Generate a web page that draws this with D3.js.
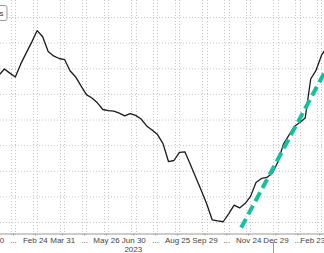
<!DOCTYPE html>
<html>
<head>
<meta charset="utf-8">
<script src="https://cdnjs.cloudflare.com/ajax/libs/d3/7.8.5/d3.min.js"></script>
<style>
  html, body { margin: 0; padding: 0; background: #fff; overflow: hidden; }
  text { font-family: "Liberation Sans", Arial, sans-serif; }
</style>
</head>
<body>
<script>
// Constants.
const width = 324;
const height = 253;
const axisY = 233;

// weekly readings (Mondays), first one Jan 2 2023
const firstWeek = new Date(2023, 0, 2);
const values = [
  5.78, 5.73, 5.97, 5.81, 5.66, 6.17, 6.60, 7.02, 7.47, 7.23,
  6.65, 6.48, 6.38, 6.34, 5.90, 5.67, 5.31, 4.97, 4.84, 4.65,
  4.39, 4.35, 4.33, 4.25, 4.14, 4.23, 4.16, 4.02, 3.75, 3.59,
  3.41, 3.06, 2.36, 2.40, 2.72, 2.74, 2.24, 1.74, 1.23, 0.70,
  0.08, 0.04, 0.01, 0.32, 0.66, 0.55, 0.72, 1.00, 1.54, 1.70,
  1.74, 1.91, 2.34, 3.03, 3.38, 3.73, 3.88, 4.06, 5.58, 5.93,
  6.52, 6.83
];

// dashed trend line, two end points
const trendDates = [new Date(2023, 10, 15), new Date(2024, 2, 1)];
const trendValues = [-0.22, 5.85];

// month ticks (last friday of each month)
const tickDates = [
  new Date(2022, 11, 30), new Date(2023, 0, 27), new Date(2023, 1, 24),
  new Date(2023, 2, 31), new Date(2023, 3, 28), new Date(2023, 4, 26),
  new Date(2023, 5, 30), new Date(2023, 6, 28), new Date(2023, 7, 25),
  new Date(2023, 8, 29), new Date(2023, 9, 27), new Date(2023, 10, 24),
  new Date(2023, 11, 29), new Date(2024, 0, 26), new Date(2024, 1, 23)
];
const tickLabels = [
  'Dec 30', '...', 'Feb 24', 'Mar 31', '...', 'May 26', 'Jun 30', '...',
  'Aug 25', 'Sep 29', '...', 'Nov 24', 'Dec 29', '...', 'Feb 23'
];
const gridValues = [0, 1, 2, 3, 4, 5, 6, 7, 8];
const yearLabel = '2023';
const yearLabelDate = new Date(2023, 5, 30);
const yearBreakDate = new Date(2023, 11, 26);

const data = values.map((v, i) => ({date: d3.timeWeek.offset(firstWeek, i), value: v}));
const trend = trendDates.map((d, i) => ({date: d, value: trendValues[i]}));

// Scales
const pxPerDay = 0.7814;
const x0 = new Date(2022, 11, 30);
const x1 = new Date(2024, 2, 4);
const xScale = d3.scaleTime()
  .domain([x0, x1])
  .range([-8.9, -8.9 + pxPerDay * d3.timeDay.count(x0, x1)]);

const yScale = d3.scaleLinear()
  .domain([0, 8])
  .range([222, 17]);

// Make main svg
const svg = d3.select('body')
  .append('svg')
  .attr('width', width)
  .attr('height', height);

svg.append('defs').append('clipPath')
  .attr('id', 'plot')
  .append('rect')
  .attr('x', 0).attr('y', 0)
  .attr('width', width).attr('height', axisY);

// horizontal grid
svg.append('g')
  .selectAll('line')
  .data(gridValues)
  .enter()
  .append('line')
  .attr('x1', 0)
  .attr('x2', width)
  .attr('y1', d => yScale(d) + 0.5)
  .attr('y2', d => yScale(d) + 0.5)
  .attr('stroke', '#c8c8c8')
  .attr('stroke-width', 1)
  .attr('stroke-dasharray', '1,2');

// vertical grid, pairs around every month tick
const vGrid = svg.append('g');
[-2.2, 2.2].forEach(off => {
  vGrid.selectAll(null)
    .data(tickDates)
    .enter()
    .append('line')
    .attr('x1', d => Math.round(xScale(d) + off) + 0.5)
    .attr('x2', d => Math.round(xScale(d) + off) + 0.5)
    .attr('y1', 0)
    .attr('y2', axisY + 2)
    .attr('stroke', '#c8c8c8')
    .attr('stroke-width', 1)
    .attr('stroke-dasharray', '1,2');
});

// legend box, mostly cut off at the left
svg.append('rect')
  .attr('x', -60)
  .attr('y', 5.5)
  .attr('width', 67)
  .attr('height', 15)
  .attr('rx', 2)
  .attr('fill', '#fff')
  .attr('stroke', '#9a9a9a');

svg.append('text')
  .attr('x', 3.5)
  .attr('y', 16)
  .attr('text-anchor', 'end')
  .attr('font-size', '8px')
  .attr('fill', '#333')
  .text('Positions');

// x axis
const xAxis = d3.axisBottom(xScale)
  .tickValues(tickDates)
  .tickFormat((d, i) => tickLabels[i])
  .tickSizeInner(2)
  .tickSizeOuter(0)
  .tickPadding(2);

const xAxisG = svg.append('g')
  .attr('transform', `translate(0, ${axisY + 0.5})`)
  .call(xAxis);

xAxisG.select('.domain').attr('stroke', '#9a9a9a');
xAxisG.selectAll('.tick line').attr('stroke', '#9a9a9a');
xAxisG.selectAll('.tick text')
  .attr('font-family', '"Liberation Sans", Arial, sans-serif')
  .attr('font-size', '8px')
  .attr('fill', '#444');

// keep the last label inside the picture
xAxisG.selectAll('.tick')
  .filter((d, i) => i === tickDates.length - 1)
  .select('text')
  .attr('dx', -7);

svg.append('text')
  .attr('x', xScale(yearLabelDate))
  .attr('y', 251.5)
  .attr('text-anchor', 'middle')
  .attr('font-size', '8px')
  .attr('fill', '#444')
  .text(yearLabel);

svg.append('line')
  .attr('x1', Math.round(xScale(yearBreakDate)) + 0.5)
  .attr('x2', Math.round(xScale(yearBreakDate)) + 0.5)
  .attr('y1', 242)
  .attr('y2', height)
  .attr('stroke', '#9a9a9a');

// lines
const line = d3.line()
  .x(d => xScale(d.date))
  .y(d => yScale(d.value));

const plot = svg.append('g').attr('clip-path', 'url(#plot)');

plot.append('path')
  .datum(data)
  .attr('d', line)
  .attr('fill', 'none')
  .attr('stroke', '#1a1a1a')
  .attr('stroke-width', 1.3)
  .attr('stroke-linejoin', 'round');

plot.append('path')
  .datum(trend)
  .attr('d', line)
  .attr('fill', 'none')
  .attr('stroke', '#14c19e')
  .attr('stroke-width', 4)
  .attr('stroke-dasharray', '10,5');
</script>
</body>
</html>
